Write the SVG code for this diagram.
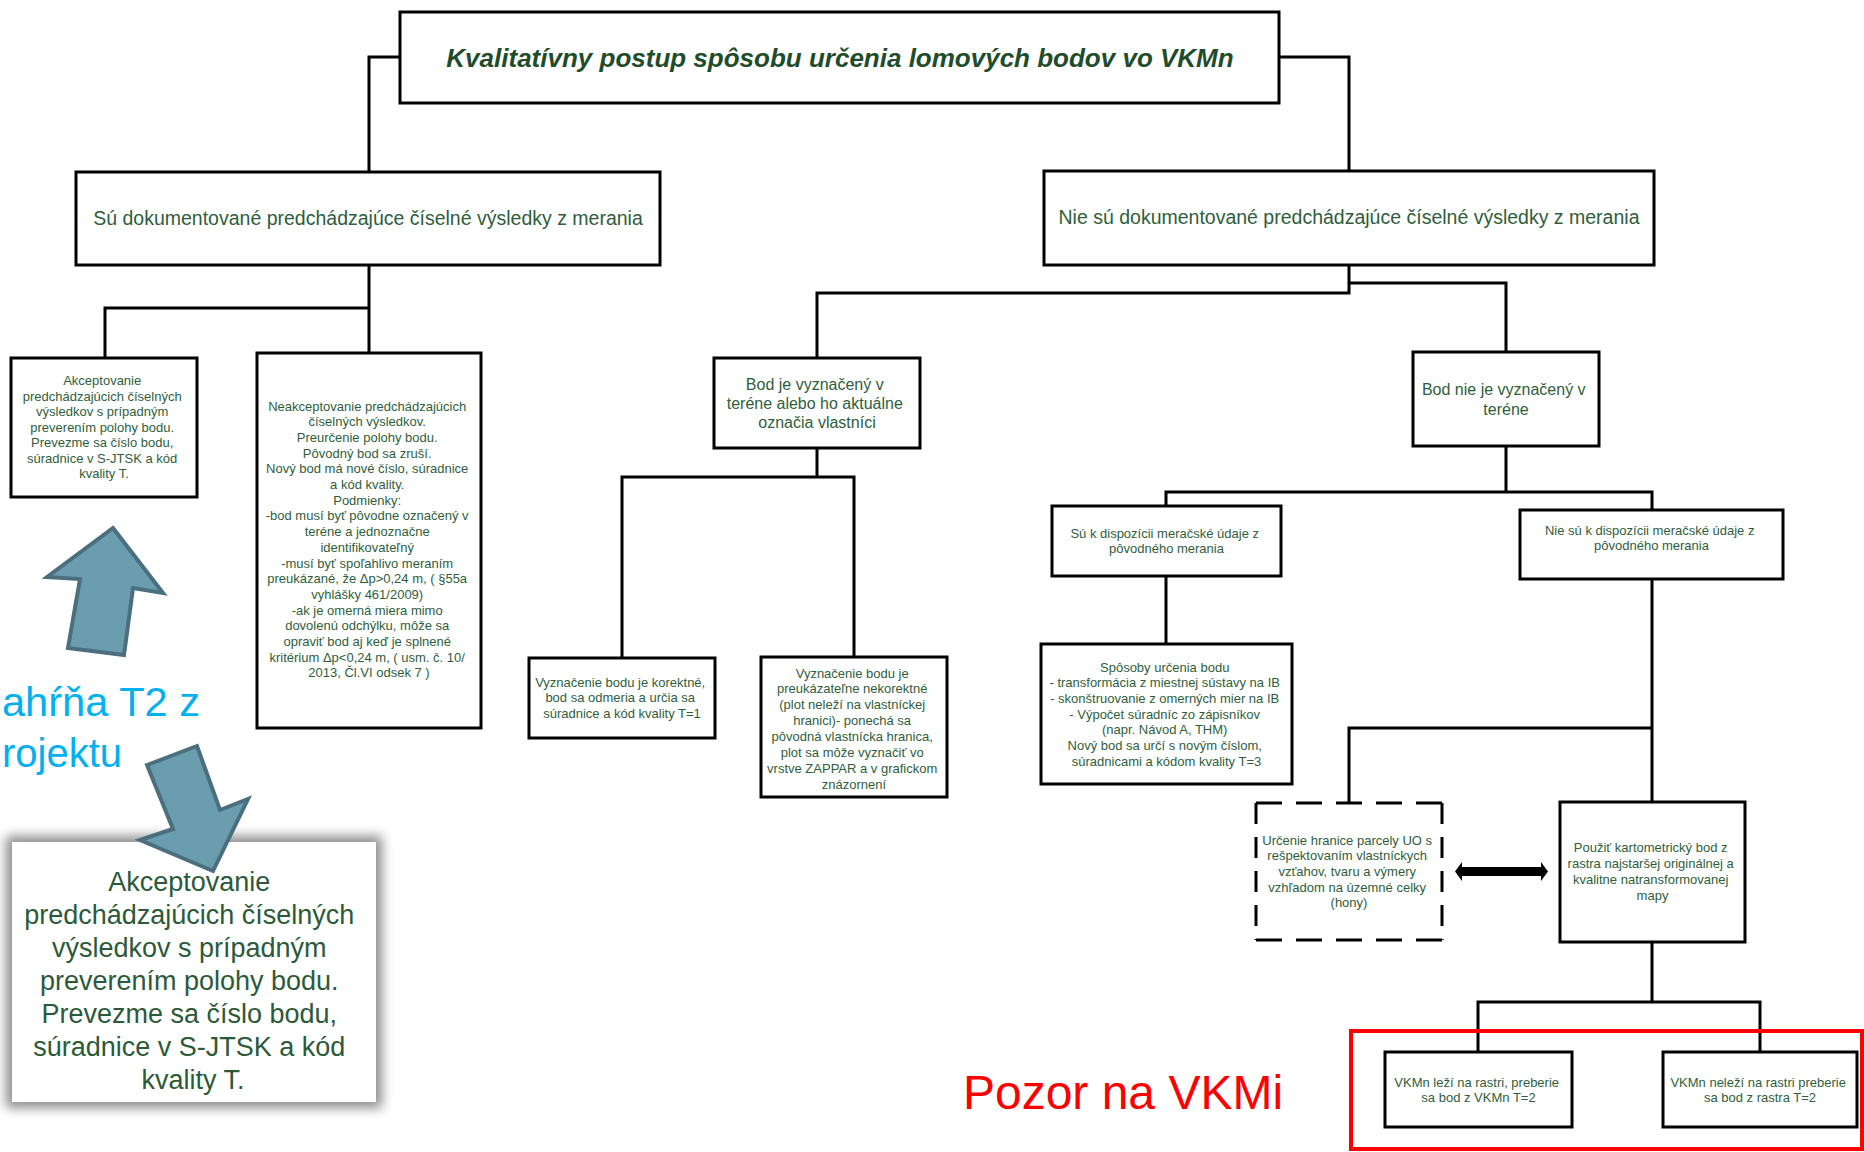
<svg xmlns="http://www.w3.org/2000/svg" width="1864" height="1152" viewBox="0 0 1864 1152">
<defs>
<style>
.box{fill:#fff;stroke:#000;stroke-width:3}
.con{fill:none;stroke:#000;stroke-width:3}
.t{font-family:"Liberation Sans",Arial,sans-serif;fill:#2f5e3c;text-anchor:middle}
.s13{font-size:13px}
.s16{font-size:16px}
.s19{font-size:19.5px}
.big{font-size:27px;fill:#2c5a39}
.title{font-size:26px;font-weight:bold;font-style:italic;fill:#1f4d2c}
.barrow{fill:#6a9eae;stroke:#4b6f7f;stroke-width:4;stroke-linejoin:miter}
.blue{font-family:"Liberation Sans",Arial,sans-serif;font-size:41px;fill:#00b0f0}
.dash{stroke:#000;stroke-width:3}
</style>
<filter id="sh" x="-20%" y="-20%" width="140%" height="140%"><feGaussianBlur stdDeviation="6"/></filter>
</defs>
<rect width="1864" height="1152" fill="#fff"/>

<g id="connectors">
<path class="con" d="M400,57 H369 V172"/>
<path class="con" d="M1279,57 H1349 V171"/>
<path class="con" d="M369,265 V353 M369,308 H105 V358"/>
<path class="con" d="M1349,265 V293 H817 V358 M1349,283 H1506 V352"/>
<path class="con" d="M817,448 V477 H622 V658 M817,477 H854 V657"/>
<path class="con" d="M1506,446 V492 H1166 V506 M1506,492 H1652 V510"/>
<path class="con" d="M1166,576 V644"/>
<path class="con" d="M1652,579 V802 M1652,728 H1349 V803"/>
<path class="con" d="M1652,942 V1002 H1478 V1052 M1652,1002 H1760 V1052"/>
<polygon fill="#000" points="1455,871.5 1462,862 1462,867 1541,867 1541,862 1548,871.5 1541,881 1541,876 1462,876 1462,881"/>
</g>

<g id="title">
<rect class="box" x="400" y="12" width="879" height="91"/>
<text class="t title" x="840" y="67">Kvalitatívny postup spôsobu určenia lomových bodov vo VKMn</text>
</g>

<g id="su-dok">
<rect class="box" x="76" y="172" width="584" height="93"/>
<text class="t s19" x="368" y="225">Sú dokumentované predchádzajúce číselné výsledky z merania</text>
</g>

<g id="nie-su-dok">
<rect class="box" x="1044" y="171" width="610" height="94"/>
<text class="t s19" x="1349" y="224">Nie sú dokumentované predchádzajúce číselné výsledky z merania</text>
</g>

<g id="akceptovanie">
<rect class="box" x="11" y="358" width="186" height="139"/>
<text class="t s13" x="104">
<tspan x="104" y="385">Akceptovanie</tspan>
<tspan x="104" y="400.5">predchádzajúcich číselných</tspan>
<tspan x="104" y="416">výsledkov s prípadným</tspan>
<tspan x="104" y="431.5">preverením polohy bodu.</tspan>
<tspan x="104" y="447">Prevezme sa číslo bodu,</tspan>
<tspan x="104" y="462.5">súradnice v S-JTSK a kód</tspan>
<tspan x="104" y="478">kvality T.</tspan>
</text>
</g>

<g id="neakceptovanie">
<rect class="box" x="257" y="353" width="224" height="375"/>
<text class="t s13">
<tspan x="369" y="410.5">Neakceptovanie predchádzajúcich</tspan>
<tspan x="369" y="426.2">číselných výsledkov.</tspan>
<tspan x="369" y="441.9">Preurčenie polohy bodu.</tspan>
<tspan x="369" y="457.6">Pôvodný bod sa zruší.</tspan>
<tspan x="369" y="473.3">Nový bod má nové číslo, súradnice</tspan>
<tspan x="369" y="489">a kód kvality.</tspan>
<tspan x="369" y="504.7">Podmienky:</tspan>
<tspan x="369" y="520.4">-bod musí byť pôvodne označený v</tspan>
<tspan x="369" y="536.1">teréne a jednoznačne</tspan>
<tspan x="369" y="551.8">identifikovateľný</tspan>
<tspan x="369" y="567.5">-musí byť spoľahlivo meraním</tspan>
<tspan x="369" y="583.2">preukázané, že Δp&gt;0,24 m, ( §55a</tspan>
<tspan x="369" y="598.9">vyhlášky 461/2009)</tspan>
<tspan x="369" y="614.6">-ak je omerná miera mimo</tspan>
<tspan x="369" y="630.3">dovolenú odchýlku, môže sa</tspan>
<tspan x="369" y="646">opraviť bod aj keď je splnené</tspan>
<tspan x="369" y="661.7">kritérium Δp&lt;0,24 m, ( usm. č. 10/</tspan>
<tspan x="369" y="677.4">2013, Čl.VI odsek 7 )</tspan>
</text>
</g>

<g id="bod-je">
<rect class="box" x="714" y="358" width="206" height="90"/>
<text class="t s16">
<tspan x="817" y="389.5">Bod je vyznačený v</tspan>
<tspan x="817" y="408.5">teréne alebo ho aktuálne</tspan>
<tspan x="817" y="427.5">označia vlastníci</tspan>
</text>
</g>

<g id="bod-nie">
<rect class="box" x="1413" y="352" width="186" height="94"/>
<text class="t s16">
<tspan x="1506" y="394.5">Bod nie je vyznačený v</tspan>
<tspan x="1506" y="414.5">teréne</tspan>
</text>
</g>

<g id="korektne">
<rect class="box" x="529" y="658" width="186" height="80"/>
<text class="t s13">
<tspan x="622" y="686.5">Vyznačenie bodu je korektné,</tspan>
<tspan x="622" y="702">bod sa odmeria a určia sa</tspan>
<tspan x="622" y="717.5">súradnice a kód kvality T=1</tspan>
</text>
</g>

<g id="nekorektne">
<rect class="box" x="761" y="657" width="186" height="140"/>
<text class="t s13">
<tspan x="854" y="677.5">Vyznačenie bodu je</tspan>
<tspan x="854" y="693.4">preukázateľne nekorektné</tspan>
<tspan x="854" y="709.2">(plot neleží na vlastníckej</tspan>
<tspan x="854" y="725.1">hranici)- ponechá sa</tspan>
<tspan x="854" y="741">pôvodná vlastnícka hranica,</tspan>
<tspan x="854" y="756.8">plot sa môže vyznačiť vo</tspan>
<tspan x="854" y="772.7">vrstve ZAPPAR a v grafickom</tspan>
<tspan x="854" y="788.5">znázornení</tspan>
</text>
</g>

<g id="su-k-dispozicii">
<rect class="box" x="1052" y="506" width="229" height="70"/>
<text class="t s13">
<tspan x="1166.5" y="537.5">Sú k dispozícii meračské údaje z</tspan>
<tspan x="1166.5" y="552.5">pôvodného merania</tspan>
</text>
</g>

<g id="nie-su-k-dispozicii">
<rect class="box" x="1520" y="510" width="263" height="69"/>
<text class="t s13">
<tspan x="1651.5" y="534.5">Nie sú k dispozícii meračské údaje z</tspan>
<tspan x="1651.5" y="549.5">pôvodného merania</tspan>
</text>
</g>

<g id="sposoby">
<rect class="box" x="1041" y="644" width="251" height="140"/>
<text class="t s13">
<tspan x="1166.5" y="671.5">Spôsoby určenia bodu</tspan>
<tspan x="1166.5" y="687.2">- transformácia z miestnej sústavy na IB</tspan>
<tspan x="1166.5" y="702.8">- skonštruovanie z omerných mier na IB</tspan>
<tspan x="1166.5" y="718.5">- Výpočet súradníc zo zápisníkov</tspan>
<tspan x="1166.5" y="734.2">(napr. Návod A, THM)</tspan>
<tspan x="1166.5" y="749.8">Nový bod sa určí s novým číslom,</tspan>
<tspan x="1166.5" y="765.5">súradnicami a kódom kvality T=3</tspan>
</text>
</g>

<g id="urcenie-hranice">
<rect x="1256" y="803" width="186" height="137" fill="#fff"/>
<path class="dash" d="M1256,803 H1442 M1256,940 H1442" stroke-dasharray="26 14" stroke-dashoffset="0"/>
<path class="dash" d="M1256,803 V940 M1442,803 V940" stroke-dasharray="21 13"/>
<text class="t s13">
<tspan x="1349" y="844.5">Určenie hranice parcely UO s</tspan>
<tspan x="1349" y="860.2">rešpektovaním vlastníckych</tspan>
<tspan x="1349" y="875.9">vzťahov, tvaru a výmery</tspan>
<tspan x="1349" y="891.6">vzhľadom na územné celky</tspan>
<tspan x="1349" y="907.3">(hony)</tspan>
</text>
</g>

<g id="pouzit">
<rect class="box" x="1560" y="802" width="185" height="140"/>
<text class="t s13">
<tspan x="1652.5" y="851.5">Použiť kartometrický bod z</tspan>
<tspan x="1652.5" y="867.5">rastra najstaršej originálnej a</tspan>
<tspan x="1652.5" y="883.5">kvalitne natransformovanej</tspan>
<tspan x="1652.5" y="899.5">mapy</tspan>
</text>
</g>

<g id="vkmn-lezi">
<rect class="box" x="1385" y="1052" width="187" height="75"/>
<text class="t s13">
<tspan x="1478.5" y="1086.5">VKMn leží na rastri, preberie</tspan>
<tspan x="1478.5" y="1101.5">sa bod z VKMn T=2</tspan>
</text>
</g>

<g id="vkmn-nelezi">
<rect class="box" x="1663" y="1052" width="194" height="75"/>
<text class="t s13">
<tspan x="1760" y="1086.5">VKMn neleží na rastri preberie</tspan>
<tspan x="1760" y="1101.5">sa bod z rastra T=2</tspan>
</text>
</g>

<g id="red-frame">
<rect x="1351" y="1031" width="511" height="118" fill="none" stroke="#ff0000" stroke-width="4"/>
</g>

<g id="pozor">
<text x="1123" y="1109" font-family="Liberation Sans, Arial, sans-serif" font-size="48" fill="#ff0000" text-anchor="middle">Pozor na VKMi</text>
</g>

<g id="zoom-box">
<rect x="6" y="836" width="376" height="272" fill="#8c8c8c" filter="url(#sh)"/>
<rect x="12" y="842" width="364" height="260" fill="#fff"/>
<text class="t big">
<tspan x="193" y="891">Akceptovanie</tspan>
<tspan x="193" y="924">predchádzajúcich číselných</tspan>
<tspan x="193" y="957">výsledkov s prípadným</tspan>
<tspan x="193" y="990">preverením polohy bodu.</tspan>
<tspan x="193" y="1023">Prevezme sa číslo bodu,</tspan>
<tspan x="193" y="1056">súradnice v S-JTSK a kód</tspan>
<tspan x="193" y="1089">kvality T.</tspan>
</text>
</g>

<g id="note">
<text class="blue" x="2" y="716" textLength="198" lengthAdjust="spacingAndGlyphs">ahŕňa T2 z</text>
<text class="blue" x="2" y="767" textLength="120" lengthAdjust="spacingAndGlyphs">rojektu</text>
</g>

<g id="arrow-up">
<polygon class="barrow" points="113,528 163,593 133,588 124,655 68,648 80,579 47,577"/>
</g>
<g id="arrow-down">
<polygon class="barrow" points="147,765 197,746 220,810 248,799 213,871 140,840 173,829"/>
</g>
</svg>
